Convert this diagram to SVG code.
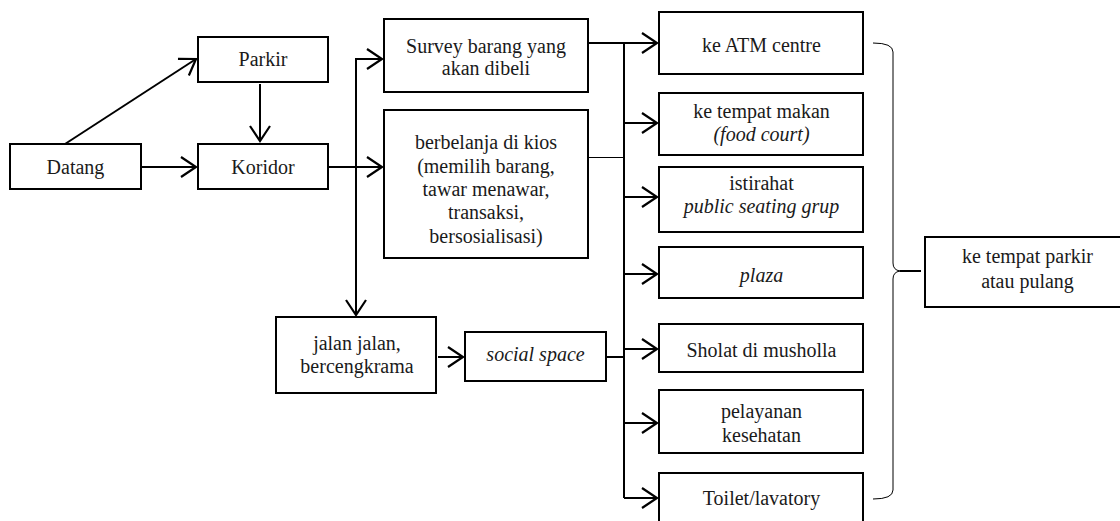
<svg xmlns="http://www.w3.org/2000/svg" width="1120" height="521" viewBox="0 0 1120 521">
  <style>
    .box { fill: #ffffff; stroke: #000000; stroke-width: 2; }
    .lbl { font-size: 20px; fill: #1a1a1a; text-anchor: middle; }
    .it { font-style: italic; }
    .ln { fill: none; stroke: #000000; stroke-width: 2; }
    .thin { fill: none; stroke: #000000; stroke-width: 1; }
    .arr { marker-end: url(#head); }
  </style>
  <defs>
    <marker id="head" markerUnits="userSpaceOnUse" markerWidth="20" markerHeight="24" viewBox="-17 -12 20 24" refX="0" refY="0" orient="auto">
      <path d="M-15,-10 L0,0 L-15,10" fill="none" stroke="#000000" stroke-width="2.2"/>
    </marker>
  </defs>
  <rect width="1120" height="521" fill="#ffffff"/>

  <g id="connectors">
    <line class="ln arr" x1="65" y1="144" x2="196" y2="59"/>
    <line class="ln arr" x1="141" y1="167" x2="196" y2="167"/>
    <line class="ln arr" x1="260" y1="84" x2="260" y2="141"/>
    <line class="ln arr" x1="328" y1="167" x2="382" y2="167"/>
    <line class="ln arr" x1="356" y1="59" x2="382" y2="59"/>
    <line class="ln arr" x1="356" y1="58" x2="356" y2="315"/>
    <line class="ln arr" x1="438" y1="357" x2="463" y2="357"/>
    <line class="ln" x1="588" y1="43" x2="624" y2="43"/>
    <line class="thin" x1="588" y1="157.5" x2="624" y2="157.5"/>
    <line class="ln" x1="606" y1="357" x2="624" y2="357"/>
    <line class="ln" x1="624" y1="43" x2="624" y2="498"/>
    <line class="ln arr" x1="624" y1="43" x2="657" y2="43"/>
    <line class="ln arr" x1="624" y1="123" x2="657" y2="123"/>
    <line class="ln arr" x1="624" y1="197" x2="657" y2="197"/>
    <line class="ln arr" x1="624" y1="274" x2="657" y2="274"/>
    <line class="ln arr" x1="624" y1="349" x2="657" y2="349"/>
    <line class="ln arr" x1="624" y1="423" x2="657" y2="423"/>
    <line class="ln arr" x1="624" y1="498" x2="657" y2="498"/>
    <path class="thin" d="M873,43 Q893,43 893,52 L893,263 Q893,270 900,271 Q893,272 893,279 L893,490 Q893,499 873,499"/>
    <line class="ln" x1="900" y1="271" x2="921" y2="271"/>
  </g>

  <g font-family="'Liberation Serif', 'Times New Roman', 'DejaVu Serif', serif">
    <g id="datang">
      <rect class="box" x="10" y="144" width="131" height="45"/>
      <text class="lbl" x="75.5" y="174">Datang</text>
    </g>
    <g id="parkir">
      <rect class="box" x="198" y="37" width="130" height="45"/>
      <text class="lbl" x="263" y="66">Parkir</text>
    </g>
    <g id="koridor">
      <rect class="box" x="198" y="144" width="130" height="45"/>
      <text class="lbl" x="263" y="174">Koridor</text>
    </g>
    <g id="survey">
      <rect class="box" x="384" y="19" width="204" height="73"/>
      <text class="lbl" x="486" y="53">Survey barang yang</text>
      <text class="lbl" x="486" y="75">akan dibeli</text>
    </g>
    <g id="berbelanja">
      <rect class="box" x="384" y="110" width="204" height="148"/>
      <text class="lbl" x="486" y="149">berbelanja di kios</text>
      <text class="lbl" x="486" y="173">(memilih barang,</text>
      <text class="lbl" x="486" y="196">tawar menawar,</text>
      <text class="lbl" x="486" y="219">transaksi,</text>
      <text class="lbl" x="486" y="243">bersosialisasi)</text>
    </g>
    <g id="jalan">
      <rect class="box" x="276" y="317" width="160" height="76"/>
      <text class="lbl" x="357" y="350">jalan jalan,</text>
      <text class="lbl" x="357" y="373">bercengkrama</text>
    </g>
    <g id="social-space">
      <rect class="box" x="465" y="332" width="141" height="49"/>
      <text class="lbl it" x="535.5" y="361">social space</text>
    </g>
    <g id="atm">
      <rect class="box" x="659" y="12" width="204" height="62"/>
      <text class="lbl" x="761.5" y="52">ke ATM centre</text>
    </g>
    <g id="food-court">
      <rect class="box" x="659" y="93" width="204" height="62"/>
      <text class="lbl" x="761.5" y="118">ke tempat makan</text>
      <text class="lbl it" x="761.5" y="141">(food court)</text>
    </g>
    <g id="istirahat">
      <rect class="box" x="659" y="167" width="204" height="65"/>
      <text class="lbl" x="761.5" y="190">istirahat</text>
      <text class="lbl it" x="761.5" y="213">public seating grup</text>
    </g>
    <g id="plaza">
      <rect class="box" x="659" y="247" width="204" height="51"/>
      <text class="lbl it" x="761.5" y="282">plaza</text>
    </g>
    <g id="sholat">
      <rect class="box" x="659" y="324" width="204" height="48"/>
      <text class="lbl" x="761.5" y="357">Sholat di musholla</text>
    </g>
    <g id="pelayanan">
      <rect class="box" x="659" y="390" width="204" height="63"/>
      <text class="lbl" x="761.5" y="418">pelayanan</text>
      <text class="lbl" x="761.5" y="442">kesehatan</text>
    </g>
    <g id="toilet">
      <rect class="box" x="659" y="473" width="204" height="60"/>
      <text class="lbl" x="761.5" y="505">Toilet/lavatory</text>
    </g>
    <g id="pulang">
      <rect class="box" x="925" y="237" width="205" height="70"/>
      <text class="lbl" x="1027.5" y="263">ke tempat parkir</text>
      <text class="lbl" x="1027.5" y="288">atau pulang</text>
    </g>
  </g>
</svg>
